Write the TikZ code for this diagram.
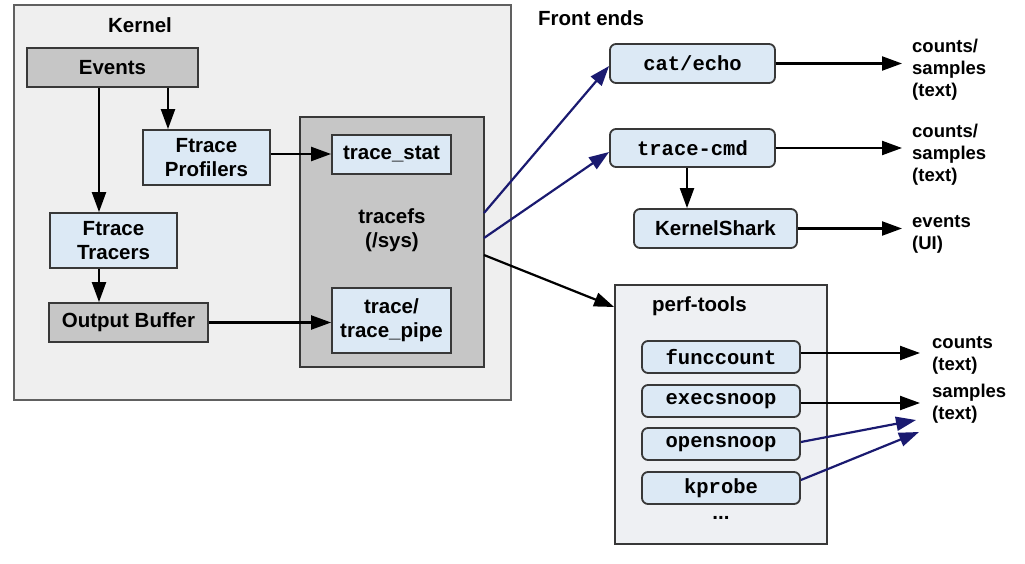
\documentclass[tikz,border=0pt]{standalone}
\usepackage{fontspec}
\setmainfont{Liberation Sans}
\setmonofont{Liberation Mono}
\usetikzlibrary{arrows.meta}
\definecolor{lblue}{HTML}{DCE9F5}
\definecolor{dgray}{HTML}{C6C6C6}
\definecolor{kgray}{HTML}{EFEFEF}
\definecolor{pgray}{HTML}{EEF0F3}
\definecolor{bord}{HTML}{383838}
\definecolor{navy}{HTML}{1A1A70}
\tikzset{
  box/.style={draw=bord, line width=1.8pt, inner sep=0pt, align=center,
    font=\fontsize{20.5}{24}\selectfont\bfseries},
  bluebox/.style={box, fill=lblue},
  graybox/.style={box, fill=dgray},
  fe/.style={box, fill=lblue, rounded corners=6pt},
  mono/.style={font=\fontsize{20.5}{24}\selectfont\ttfamily\bfseries},
  lab/.style={font=\fontsize{20.5}{24}\selectfont\bfseries, inner sep=0pt},
  outl/.style={font=\fontsize{18.5}{22}\selectfont\bfseries, align=left, inner sep=0pt, anchor=north west},
  arr/.style={line width=2.2pt, draw=black, -{Triangle[length=20pt,width=14pt]}},
  barr/.style={arr, draw=navy, -{Triangle[length=20pt,width=14pt,fill=navy]}},
}
\begin{document}
\begin{tikzpicture}[x=1pt,y=-1pt]
\useasboundingbox (0,0) rectangle (1025,564);
% Kernel container
\node[draw=bord!80, line width=2pt, fill=kgray, minimum width=497pt, minimum height=395pt, inner sep=0pt] (kernel) at (262.5,202.5) {};
\node[lab] (kernellab) at (140,25) {Kernel};
\node[graybox, minimum width=171pt, minimum height=39pt] (events) at (112.5,67.5) {Events};
\node[bluebox, minimum width=127pt, minimum height=55pt] (prof) at (206.5,157.5) {Ftrace\\Profilers};
\node[bluebox, minimum width=127pt, minimum height=55pt] (tracers) at (113.5,240.5) {Ftrace\\Tracers};
\node[graybox, minimum width=159pt, minimum height=39pt] (outbuf) at (128.5,322.5) {Output Buffer};
\node[graybox, minimum width=184pt, minimum height=250pt] (tracefs) at (392,242) {};
\node[box, draw=none] (tracefslab) at (392,230) {tracefs\\(/sys)};
\node[bluebox, minimum width=119pt, minimum height=39pt] (tstat) at (391.5,154.5) {trace\_stat};
\node[bluebox, minimum width=119pt, minimum height=65pt] (tpipe) at (391.5,320.5) {trace/\\trace\_pipe};
\draw[arr] (events.south -| 99,0) -- (tracers.north -| 99,0);
\draw[arr] (events.south -| 168,0) -- (prof.north -| 168,0);
\draw[arr] (tracers.south -| 99,0) -- (outbuf.north -| 99,0);
\draw[arr] (prof.east |- 0,154) -- (tstat.west |- 0,154);
\draw[arr] (outbuf.east) -- (tpipe.west |- outbuf.east);
% Front ends
\node[lab, anchor=west] (fronts) at (538,18) {Front ends};
\node[fe, mono, minimum width=165pt, minimum height=39pt] (cat) at (692.5,63.5) {cat/echo};
\node[fe, mono, minimum width=165pt, minimum height=38pt] (tcmd) at (692.5,148) {trace-cmd};
\node[fe, minimum width=163pt, minimum height=39pt] (kshark) at (715.5,228.5) {KernelShark};
\node[outl] (o1) at (912,39) {counts/\\samples\\(text)};
\node[outl] (o2) at (912,124) {counts/\\samples\\(text)};
\node[outl] (o3) at (912,215) {events\\(UI)};
\draw[arr, shorten >=10pt] (cat.east) -- (cat.east -| o1.west);
\draw[arr, shorten >=10pt] (tcmd.east) -- (tcmd.east -| o2.west);
\draw[arr, shorten >=10pt] (kshark.east) -- (kshark.east -| o3.west);
\draw[arr] (tcmd.south -| 687,0) -- (kshark.north -| 687,0);
% perf-tools
\node[draw=bord, line width=1.8pt, fill=pgray, minimum width=212pt, minimum height=259pt, inner sep=0pt] (perf) at (721,414.5) {};
\node[lab, anchor=west] (perflab) at (652,306) {perf-tools};
\node[fe, mono, minimum width=158pt, minimum height=32pt] (func) at (721,357) {funccount};
\node[fe, mono, minimum width=158pt, minimum height=32pt] (exec) at (721,401) {execsnoop};
\node[fe, mono, minimum width=158pt, minimum height=32pt] (open) at (721,444) {opensnoop};
\node[fe, mono, minimum width=158pt, minimum height=32pt] (kprobe) at (721,488) {kprobe};
\node[lab] (dots) at (721,518) {...};
\node[outl] (o4) at (932,336) {counts\\(text)};
\node[outl] (o5) at (932,384) {samples\\(text)};
\coordinate (s1) at (916,420);
\coordinate (s2) at (919,432);
\draw[arr, shorten >=12pt] (func.east |- 0,353) -- (o4.west |- 0,353);
\draw[arr, shorten >=12pt] (exec.east |- 0,403) -- (o5.west |- 0,403);
\draw[barr] (open.east |- 0,442) -- (s1);
\draw[barr] (kprobe.east |- 0,480) -- (s2);
% tracefs to front ends
\coordinate (f1) at (484,213);
\coordinate (f2) at (484,238);
\coordinate (f3) at (484,255);
\draw[barr] (f1) -- (cat.west |- 0,66);
\draw[barr] (f2) -- (tcmd.west |- 0,152);
\draw[arr] (f3) -- (perf.west |- 0,307);
\end{tikzpicture}
\end{document}
